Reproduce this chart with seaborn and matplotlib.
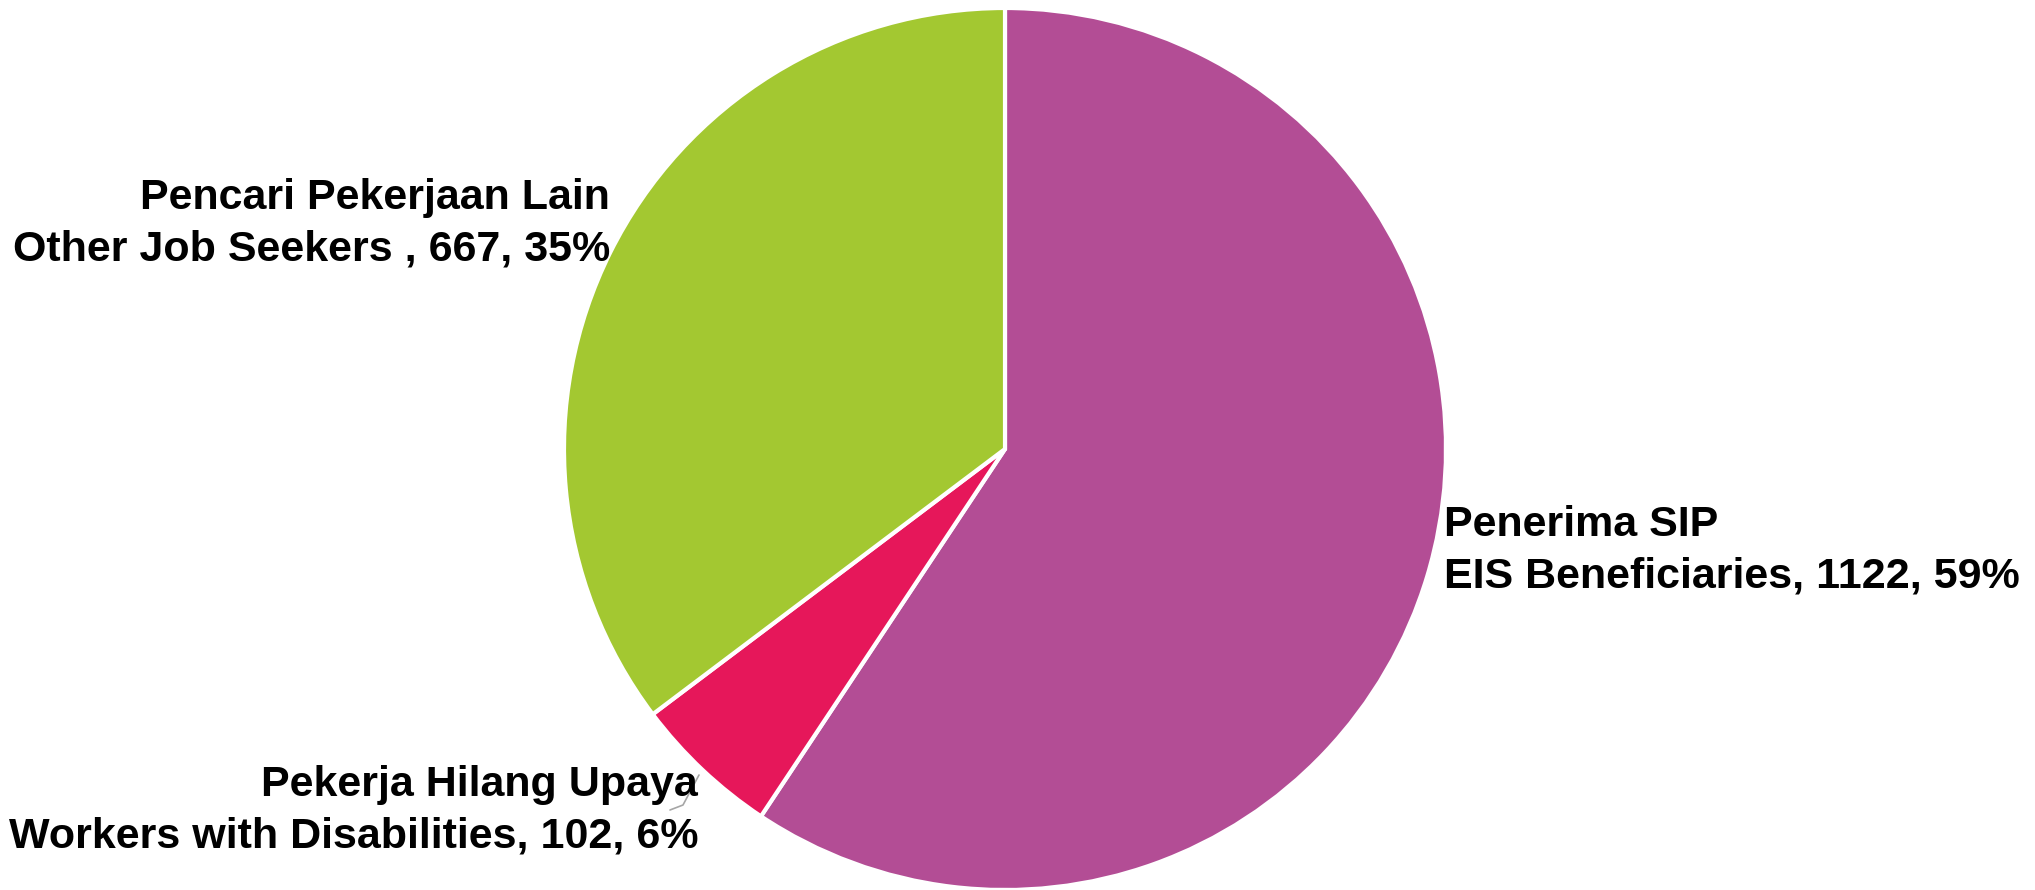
import numpy as np
import matplotlib.pyplot as plt
import seaborn as sns

names_id = ["Penerima SIP", "Pekerja Hilang Upaya", "Pencari Pekerjaan Lain"]
names_en = ["EIS Beneficiaries", "Workers with Disabilities", "Other Job Seekers "]
counts = [1122, 102, 667]
percents = [59, 6, 35]
colors = ["#B34D95", "#E6175A", "#A3C831"]

sns.set_theme(style="white")
plt.rcParams['font.family'] = ['Liberation Sans', 'DejaVu Sans']

W, H = 2035, 890
cx, cy, r = 1005, 449, 441

fig = plt.figure(figsize=(W / 100, H / 100), dpi=100)
ax = fig.add_axes([0, 0, 1, 1])

wedges, _ = ax.pie(counts, colors=colors, startangle=90, counterclock=False,
                   radius=1, center=(0, 0),
                   wedgeprops=dict(edgecolor="white", linewidth=3))

# pie() resets the limits, so set them afterwards (1 data unit = r pixels)
ax.set_xlim(-cx / r, (W - cx) / r)
ax.set_ylim(-(H - cy) / r, cy / r)
ax.set_aspect("equal")
ax.axis("off")


def px(x, y):
    return (x - cx) / r, (cy - y) / r


labels = [f"{a}\n{b}, {c}, {p}%" for a, b, c, p in zip(names_id, names_en, counts, percents)]
# label anchor (pixel x, baseline of last line), alignment
places = [((1444, 587), "left"), ((698, 847), "right"), ((610, 260), "right")]
for lab, ((x, y), ha) in zip(labels, places):
    tx, ty = px(x, y)
    ax.text(tx, ty, lab, ha=ha, va="baseline", fontsize=31, fontweight="bold",
            color="black", linespacing=1.36)

# small leader line for the disabilities slice
pts = [px(699, 775), px(683, 805), px(670, 810)]
ax.plot([p[0] for p in pts], [p[1] for p in pts], color="#A6A6A6", linewidth=1.2)

fig.savefig("out.png", dpi=100)
